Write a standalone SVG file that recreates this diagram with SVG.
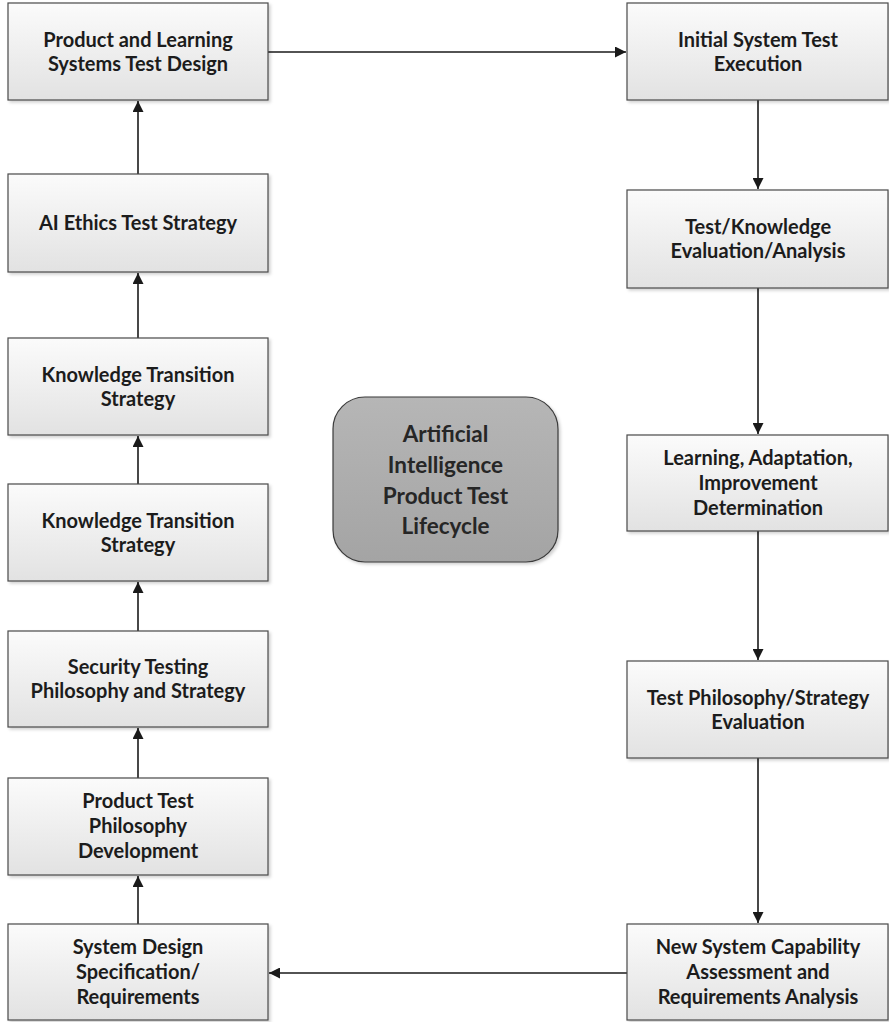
<svg xmlns="http://www.w3.org/2000/svg" width="889" height="1022" viewBox="0 0 889 1022">
  <style>
    .box { fill: url(#boxFill); stroke: #4a4a4a; stroke-width: 1.2; filter: url(#shadow); }
    .lbl { font-family: "Lato", "Open Sans", "Liberation Sans", sans-serif; font-weight: bold; font-size: 20px; fill: #1c1c1c; text-anchor: middle; }
    .core { font-family: "Lato", "Open Sans", "Liberation Sans", sans-serif; font-weight: bold; font-size: 22.5px; fill: #262626; text-anchor: middle; }
    .conn { stroke: #1a1a1a; stroke-width: 1.6; fill: none; marker-end: url(#arrow); }
  </style>
  <defs>
    <linearGradient id="boxFill" x1="0" y1="0" x2="0" y2="1">
      <stop offset="0" stop-color="#fbfbfb"/>
      <stop offset="1" stop-color="#e2e2e2"/>
    </linearGradient>
    <linearGradient id="coreFill" x1="0" y1="0" x2="0" y2="1">
      <stop offset="0" stop-color="#b6b6b6"/>
      <stop offset="1" stop-color="#a4a4a4"/>
    </linearGradient>
    <filter id="shadow" x="-5%" y="-5%" width="115%" height="115%">
      <feDropShadow dx="2" dy="2" stdDeviation="1.5" flood-color="#000" flood-opacity="0.18"/>
    </filter>
    <marker id="arrow" viewBox="0 0 10 10" refX="10" refY="5" markerWidth="11" markerHeight="11" markerUnits="userSpaceOnUse" orient="auto">
      <path d="M0,0 L10,5 L0,10 Z" fill="#1a1a1a"/>
    </marker>
  </defs>

  <g id="connectors">
    <line class="conn" x1="268" y1="52" x2="626" y2="52"/>
    <line class="conn" x1="758" y1="100" x2="758" y2="189"/>
    <line class="conn" x1="758" y1="288" x2="758" y2="434"/>
    <line class="conn" x1="758" y1="531" x2="758" y2="660"/>
    <line class="conn" x1="758" y1="758" x2="758" y2="923"/>
    <line class="conn" x1="627" y1="973" x2="269" y2="973"/>
    <line class="conn" x1="138" y1="924" x2="138" y2="876"/>
    <line class="conn" x1="138" y1="778" x2="138" y2="728"/>
    <line class="conn" x1="138" y1="631" x2="138" y2="582"/>
    <line class="conn" x1="138" y1="484" x2="138" y2="436"/>
    <line class="conn" x1="138" y1="338" x2="138" y2="273"/>
    <line class="conn" x1="138" y1="174" x2="138" y2="101"/>
  </g>

  <g id="product-learning-design">
    <rect class="box" x="8" y="3" width="260" height="97"/>
    <text class="lbl" x="138" y="47">Product and Learning</text>
    <text class="lbl" x="138" y="71">Systems Test Design</text>
  </g>
  <g id="ai-ethics">
    <rect class="box" x="8" y="174" width="260" height="98"/>
    <text class="lbl" x="138" y="230">AI Ethics Test Strategy</text>
  </g>
  <g id="knowledge-transition-1">
    <rect class="box" x="8" y="338" width="260" height="97"/>
    <text class="lbl" x="138" y="382">Knowledge Transition</text>
    <text class="lbl" x="138" y="406">Strategy</text>
  </g>
  <g id="knowledge-transition-2">
    <rect class="box" x="8" y="484" width="260" height="97"/>
    <text class="lbl" x="138" y="528">Knowledge Transition</text>
    <text class="lbl" x="138" y="552">Strategy</text>
  </g>
  <g id="security-testing">
    <rect class="box" x="8" y="631" width="260" height="96"/>
    <text class="lbl" x="138" y="674">Security Testing</text>
    <text class="lbl" x="138" y="698">Philosophy and Strategy</text>
  </g>
  <g id="product-test-philosophy">
    <rect class="box" x="8" y="778" width="260" height="97"/>
    <text class="lbl" x="138" y="808">Product Test</text>
    <text class="lbl" x="138" y="833">Philosophy</text>
    <text class="lbl" x="138" y="858">Development</text>
  </g>
  <g id="system-design-spec">
    <rect class="box" x="8" y="924" width="260" height="96"/>
    <text class="lbl" x="138" y="954">System Design</text>
    <text class="lbl" x="138" y="979">Specification/</text>
    <text class="lbl" x="138" y="1004">Requirements</text>
  </g>

  <g id="initial-system-test">
    <rect class="box" x="627" y="3" width="261" height="97"/>
    <text class="lbl" x="758" y="47">Initial System Test</text>
    <text class="lbl" x="758" y="71">Execution</text>
  </g>
  <g id="test-knowledge-eval">
    <rect class="box" x="627" y="190" width="261" height="98"/>
    <text class="lbl" x="758" y="234">Test/Knowledge</text>
    <text class="lbl" x="758" y="258">Evaluation/Analysis</text>
  </g>
  <g id="learning-adaptation">
    <rect class="box" x="627" y="435" width="261" height="96"/>
    <text class="lbl" x="758" y="465">Learning, Adaptation,</text>
    <text class="lbl" x="758" y="490">Improvement</text>
    <text class="lbl" x="758" y="515">Determination</text>
  </g>
  <g id="test-philosophy-eval">
    <rect class="box" x="627" y="661" width="261" height="97"/>
    <text class="lbl" x="758" y="705">Test Philosophy/Strategy</text>
    <text class="lbl" x="758" y="729">Evaluation</text>
  </g>
  <g id="new-capability">
    <rect class="box" x="627" y="924" width="261" height="96"/>
    <text class="lbl" x="758" y="954">New System Capability</text>
    <text class="lbl" x="758" y="979">Assessment and</text>
    <text class="lbl" x="758" y="1004">Requirements Analysis</text>
  </g>

  <g id="lifecycle-core">
    <rect x="333" y="397" width="225" height="165" rx="32" ry="32" fill="url(#coreFill)" stroke="#3a3a3a" stroke-width="1.2" filter="url(#shadow)"/>
    <text class="core" x="445.5" y="442">Artificial</text>
    <text class="core" x="445.5" y="473">Intelligence</text>
    <text class="core" x="445.5" y="504">Product Test</text>
    <text class="core" x="445.5" y="534">Lifecycle</text>
  </g>
</svg>
